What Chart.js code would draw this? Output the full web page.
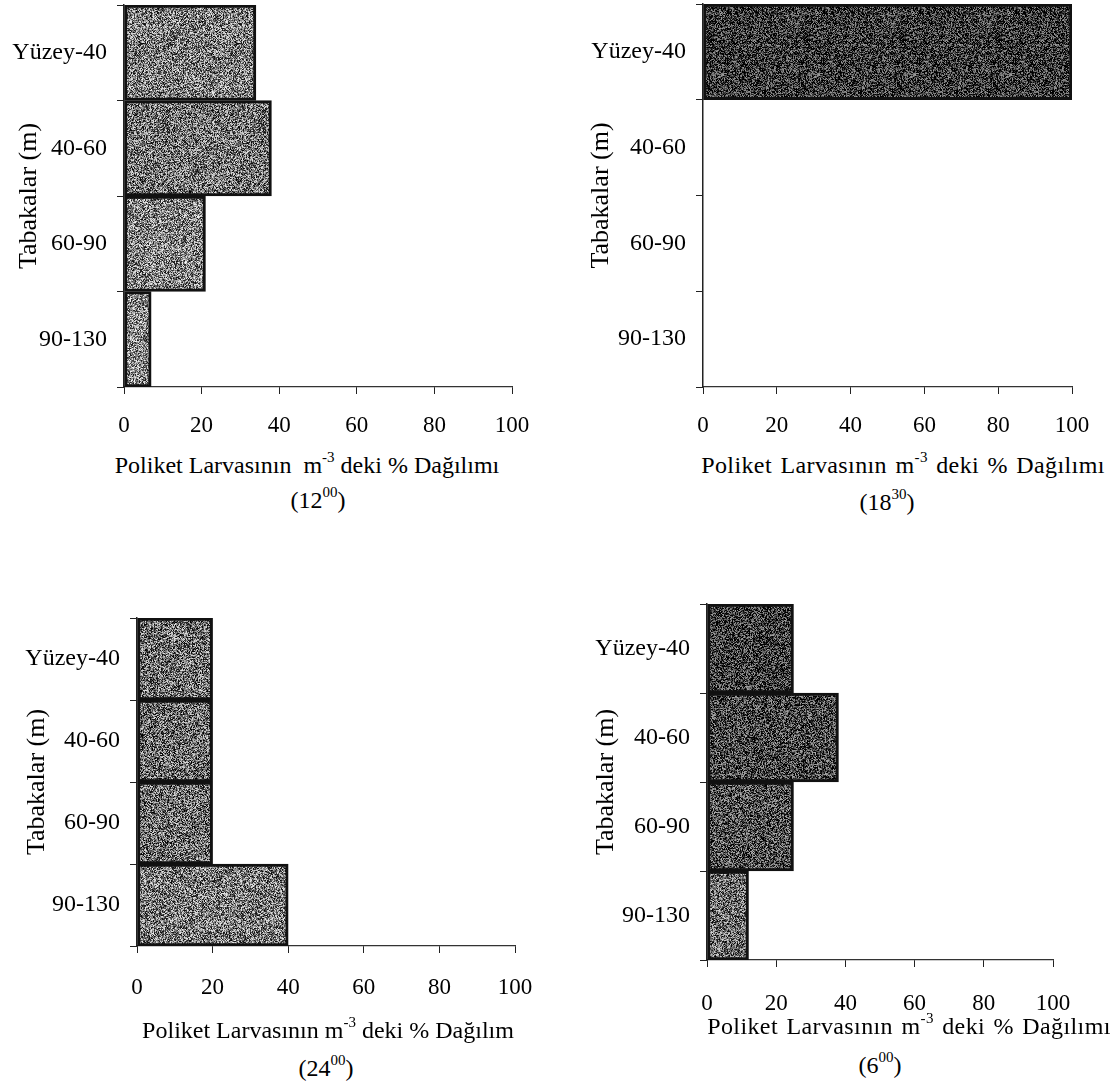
<!DOCTYPE html>
<html>
<head>
<meta charset="utf-8">
<script src="https://cdn.jsdelivr.net/npm/chart.js@4.4.0/dist/chart.umd.min.js"></script>
<style>
  body {
    margin: 0;
    width: 1117px;
    height: 1089px;
    overflow: hidden;
    position: relative;
    background: #fff;
    color: #000;
    font-family: "Liberation Serif", "Times New Roman", serif;
  }
  canvas { position: absolute; }
  .xt {
    position: absolute;
    font-size: 24px;
    line-height: 24px;
    white-space: nowrap;
    transform: translateX(-50%);
  }
  .xt.wide { word-spacing: 2px; letter-spacing: 0.4px; }
  .xt sup {
    font-size: 15px;
    vertical-align: baseline;
    position: relative;
    top: -11px;
  }
</style>
</head>
<body>
<canvas id="c1200" width="545" height="445" style="left:0;top:0"></canvas>
<canvas id="c1830" width="557" height="445" style="left:560px;top:0"></canvas>
<canvas id="c2400" width="545" height="430" style="left:0;top:590px"></canvas>
<canvas id="c0600" width="557" height="430" style="left:560px;top:590px"></canvas>

<div class="xt" style="left:307px;top:453px">Poliket Larvasının&nbsp; m<sup>-3</sup> deki % Dağılımı</div>
<div class="xt" style="left:318px;top:488px">(12<sup>00</sup>)</div>
<div class="xt wide" style="left:903px;top:453px">Poliket Larvasının m<sup>-3</sup> deki % Dağılımı</div>
<div class="xt" style="left:887px;top:490px">(18<sup>30</sup>)</div>
<div class="xt" style="left:328px;top:1018px">Poliket Larvasının m<sup>-3</sup> deki % Dağılım</div>
<div class="xt" style="left:326px;top:1056px">(24<sup>00</sup>)</div>
<div class="xt wide" style="left:909px;top:1014px">Poliket Larvasının m<sup>-3</sup> deki % Dağılımı</div>
<div class="xt" style="left:880px;top:1053px">(6<sup>00</sup>)</div>

<script>
// depth layers and % share of polychaete larvae per sampling hour
const layers = ['Yüzey-40', '40-60', '60-90', '90-130'];
const pct1200 = [34, 38, 21, 7];
const pct1830 = [100, 0, 0, 0];
const pct2400 = [20, 20, 20, 40];
const pct0600 = [25, 38, 25, 12];
const xTicks = [0, 20, 40, 60, 80, 100];

const serif = "'Liberation Serif', 'Times New Roman', serif";

// speckled grey fill, like a scanned halftone
const grain = (base, spread, seed) => {
    const c = document.createElement('canvas');
    c.width = c.height = 96;
    const g = c.getContext('2d');
    const img = g.createImageData(96, 96);
    let s = seed >>> 0;
    for (let i = 0; i < 96 * 96; i++) {
        s = (Math.imul(s, 1103515245) + 12345) >>> 0;
        const v = Math.max(0, Math.min(255, base + (s / 4294967296 - 0.5) * spread));
        img.data[i * 4] = img.data[i * 4 + 1] = img.data[i * 4 + 2] = v;
        img.data[i * 4 + 3] = 255;
    }
    g.putImageData(img, 0, 0);
    return g.createPattern(c, 'repeat');
};

// scale boxes get fixed sizes and no label padding, so the plot area sits where we want it
const noPad = s => { s.paddingTop = s.paddingBottom = s.paddingLeft = s.paddingRight = 0; };

const panel = (id, values, fills, box) => {
    new Chart(id, {
        type: 'bar',
        data: {
            labels: layers,
            datasets: [{
                data: values,
                backgroundColor: fills,
                borderColor: '#111',
                borderWidth: 3,
                borderSkipped: false,
                barPercentage: 1,
                categoryPercentage: 1
            }]
        },
        options: {
            indexAxis: 'y',
            responsive: false,
            animation: false,
            devicePixelRatio: 1,
            layout: {
                autoPadding: false,
                padding: { top: box.top, right: box.right, left: 0, bottom: 0 }
            },
            plugins: {
                legend: { display: false },
                tooltip: { enabled: false }
            },
            scales: {
                x: {
                    min: 0,
                    max: 100,
                    afterBuildTicks: s => { s.ticks = xTicks.map(v => ({ value: v })); },
                    afterFit: s => { s.height = box.xh; noPad(s); },
                    grid: { drawOnChartArea: false, drawTicks: true, tickLength: 7, color: '#222' },
                    border: { display: true, color: '#333', width: 1.2, dash: box.dash },
                    ticks: { color: '#000', font: { family: serif, size: 23 }, padding: box.tkpad }
                },
                y: {
                    afterFit: s => { s.width = box.left; noPad(s); },
                    grid: { drawOnChartArea: false, drawTicks: true, tickLength: 7, color: '#222', offset: true },
                    border: { display: true, color: '#222', width: 1.5 },
                    ticks: { color: '#000', font: { family: serif, size: 24 }, padding: 10 },
                    title: {
                        display: true,
                        text: 'Tabakalar (m)',
                        color: '#000',
                        font: { family: serif, size: 26 },
                        padding: { top: box.tpad, bottom: 0 }
                    }
                }
            }
        }
    });
};

//12:00
panel('c1200', pct1200,
    [grain(122, 230, 11), grain(115, 230, 12), grain(128, 230, 13), grain(135, 230, 14)],
    { left: 124, right: 33, top: 5, xh: 58, tpad: 14, tkpad: 18, dash: [10, 3, 2, 3] });

//18:30
panel('c1830', pct1830,
    [grain(55, 200, 21), grain(55, 200, 22), grain(55, 200, 23), grain(55, 200, 24)],
    { left: 143, right: 45, top: 4, xh: 58, tpad: 26, tkpad: 18, dash: [10, 3, 2, 3] });

//24:00
panel('c2400', pct2400,
    [grain(112, 230, 31), grain(106, 230, 32), grain(108, 230, 33), grain(120, 230, 34)],
    { left: 137, right: 30, top: 28, xh: 74, tpad: 22, tkpad: 21, dash: [] });

//06:00
panel('c0600', pct0600,
    [grain(58, 210, 41), grain(68, 210, 42), grain(78, 210, 43), grain(108, 220, 44)],
    { left: 147, right: 64, top: 14, xh: 60, tpad: 31, tkpad: 23, dash: [] });
</script>
</body>
</html>
